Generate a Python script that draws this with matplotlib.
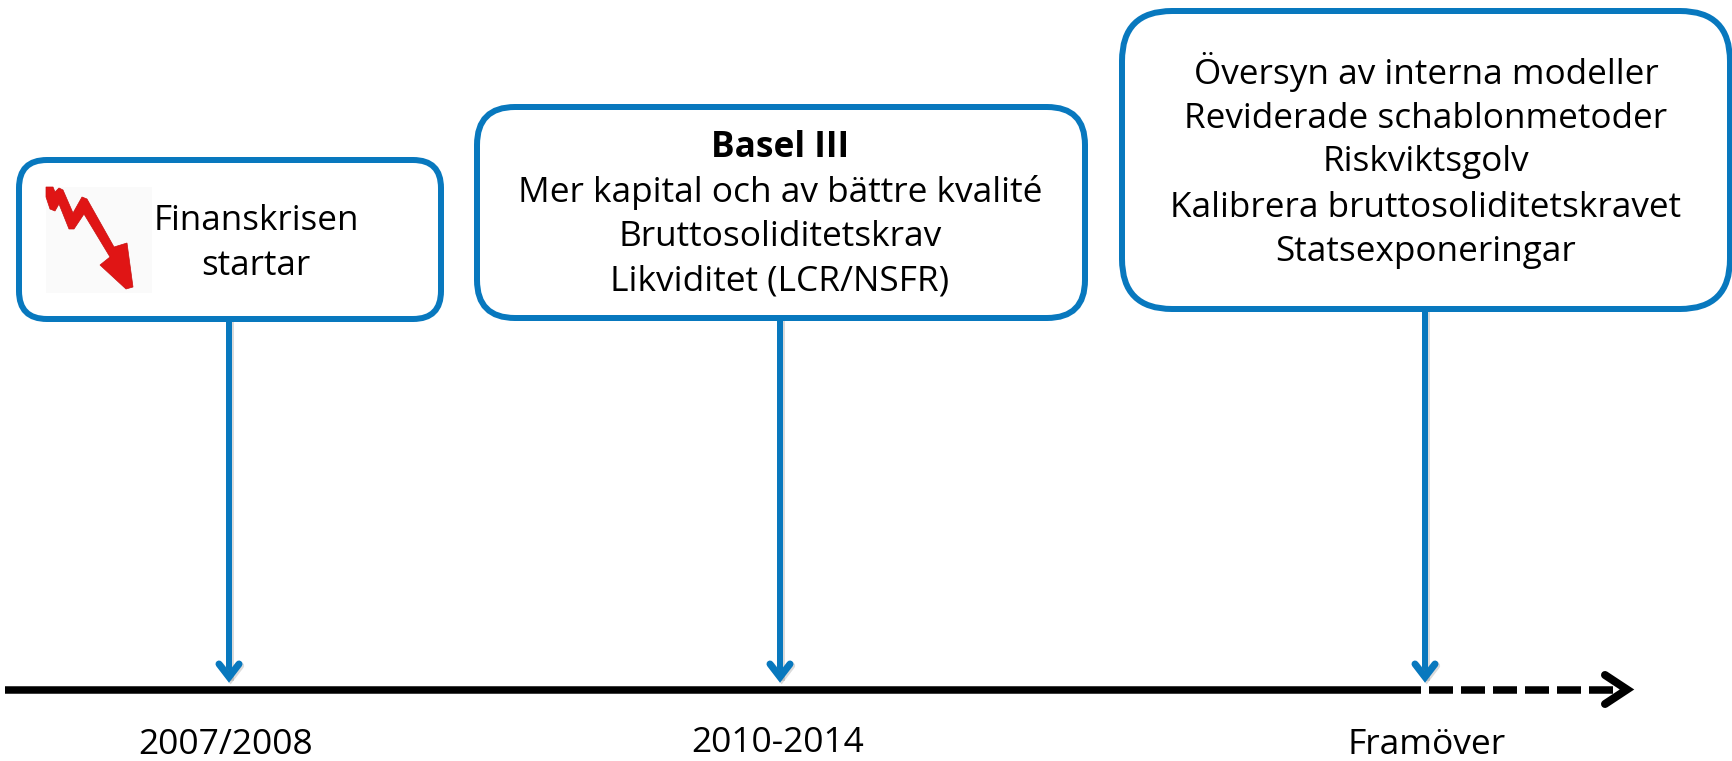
"""Timeline of Basel capital rules, drawn in pixel coordinates."""

import matplotlib.pyplot as plt
import matplotlib.patheffects as pe
from matplotlib.patches import FancyBboxPatch, Polygon, Rectangle

BLUE = "#0878be"
FONT = ["Open Sans", "DejaVu Sans"]
PX = 72 / 100  # points per pixel at dpi=100

period_labels = ["2007/2008", "2010-2014", "Framöver"]
period_label_x = [226, 778, 1427]
period_label_y = [745, 743, 745]
arrow_x = [229, 780, 1425]

# box edges: left, top, right, bottom
box_left = [19, 477, 1122]
box_top = [160, 107, 11]
box_right = [441, 1085, 1730]
box_bottom = [319, 318, 309]

box1_lines = ["Finanskrisen", "startar"]
box1_y = [221, 266]
box2_lines = ["Basel III", "Mer kapital och av bättre kvalité",
              "Bruttosoliditetskrav", "Likviditet (LCR/NSFR)"]
box2_y = [148, 192, 237, 281]
box3_lines = ["Översyn av interna modeller", "Reviderade schablonmetoder",
              "Riskviktsgolv", "Kalibrera bruttosoliditetskravet",
              "Statsexponeringar"]
box3_y = [72, 119, 162, 208, 252]

# red falling arrow of the icon, in reference pixels
icon_x = [46, 53, 55, 59, 63, 73, 82, 87, 114, 127, 133, 126, 100, 110, 84, 74, 69, 59, 55, 50, 46]
icon_y = [187, 187, 192, 188, 190, 213, 197, 199, 247, 243, 287, 289, 265, 257, 214, 229, 229, 204, 211, 209, 197]

fig = plt.figure(figsize=(17.33, 7.61), dpi=100)
ax = fig.add_axes([0, 0, 1, 1])
ax.set_xlim(0, 1733)
ax.set_ylim(761, 0)
ax.axis("off")

# Boxes
for left, top, right, bottom, radius in zip(
    box_left, box_top, box_right, box_bottom, [28, 38, 50]
):
    ax.add_patch(
        FancyBboxPatch(
            (left + radius, top + radius),
            right - left - 2 * radius,
            bottom - top - 2 * radius,
            boxstyle=f"round,pad={radius},rounding_size={radius}",
            fc="white",
            ec=BLUE,
            lw=6 * PX,
            zorder=2,
        )
    )

# Blue arrows down to the timeline
shadow = [
    pe.SimpleLineShadow(offset=(1.2, -1.2), shadow_color="#888888", alpha=0.3),
    pe.Normal(),
]
for x, bottom in zip(arrow_x, box_bottom):
    ax.plot([x, x], [bottom, 676], color=BLUE, lw=6 * PX, zorder=1, path_effects=shadow)
    ax.plot(
        [x - 10, x, x + 10],
        [664, 677, 664],
        color=BLUE,
        lw=7 * PX,
        solid_capstyle="round",
        solid_joinstyle="miter",
        zorder=4,
        path_effects=shadow,
    )

# Timeline, solid then dashed into the future
ax.plot([5, 1397], [689.5, 689.5], color="black", lw=7.5 * PX, solid_capstyle="butt", zorder=3)
ax.plot(
    [1397, 1618],
    [689.5, 689.5],
    color="black",
    lw=7.5 * PX,
    dashes=(24 / 7.5, 8 / 7.5),
    dash_capstyle="butt",
    zorder=3,
)
ax.plot(
    [1605, 1627, 1605],
    [675, 689.5, 704],
    color="black",
    lw=8 * PX,
    solid_capstyle="round",
    solid_joinstyle="miter",
    zorder=3,
)

# Icon in the first box
ax.add_patch(Rectangle((46, 187), 106, 106, fc="#fafafa", ec="none", zorder=3))
ax.add_patch(Polygon(list(zip(icon_x, icon_y)), closed=True, fc="#e01515", ec="#c81010", lw=0.5, zorder=4))

# Text
for label, x, y in zip(period_labels, period_label_x, period_label_y):
    ax.text(x, y, label, ha="center", va="center", fontsize=25.5, family=FONT, color="black")
for label, y in zip(box1_lines, box1_y):
    ax.text(256, y, label, ha="center", va="center", fontsize=25.2, family=FONT, color="black", zorder=5)
for i, (label, y) in enumerate(zip(box2_lines, box2_y)):
    ax.text(
        780, y, label, ha="center", va="center", fontsize=25.4, family=FONT,
        fontweight="bold" if i == 0 else "normal", color="black", zorder=5,
    )
for label, y in zip(box3_lines, box3_y):
    ax.text(1426, y, label, ha="center", va="center", fontsize=25.3, family=FONT, color="black", zorder=5)

fig.savefig("out.png", dpi=100, facecolor="white")
